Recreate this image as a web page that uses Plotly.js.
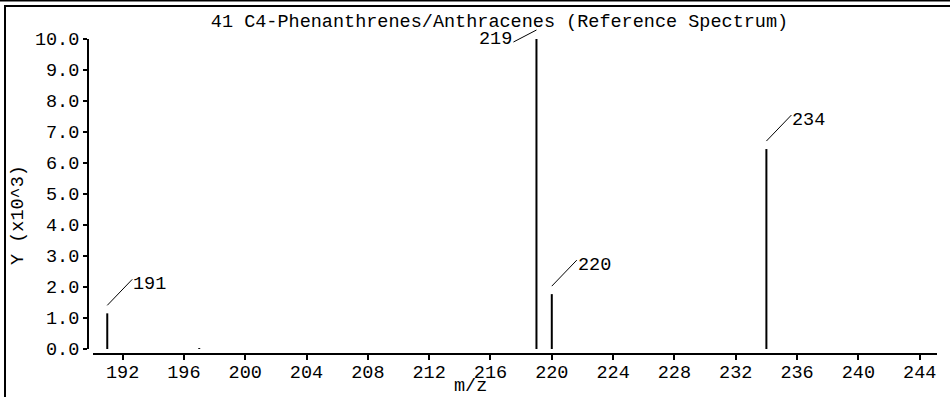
<!DOCTYPE html>
<html>
<head>
<meta charset="utf-8">
<script src="https://cdn.plot.ly/plotly-3.0.1.min.js"></script>
<style>html,body{margin:0;padding:0;background:#fff;}#chart{width:950px;height:397px;}</style>
</head>
<body>
<div id="chart"></div>
<script>
// ---- data ----
const chartTitle = "41 C4-Phenanthrenes/Anthracenes (Reference Spectrum)";
const xTitle = "m/z";
const yTitle = "Y (x10^3)";
const mz = [191, 197, 219, 220, 234];
const intensity = [1.15, 0.03, 10.0, 1.77, 6.45];   // x10^3
const labeledPeaks = [191, 219, 220, 234];
const xTickStart = 192, xTickStep = 4;
const yTickStep = 1;

// ---- geometry (pixels) ----
const W = 950, H = 397;
const L = 88, R = 937, T = 39, B = 354;
const pw = R - L, ph = B - T;
const FONT = "Liberation Mono, DejaVu Sans Mono, monospace";
const FS = 18.5;
const xRange = [190.07, 245.13], yRange = [0, 10];
const xDom = [5 / pw, 1], yDom = [5 / ph, 1];

// stick lines built from the data arrays
const sx = [], sy = [];
mz.forEach((m, i) => { sx.push(m, m, null); sy.push(0, intensity[i], null); });

const trace = {
  type: "scatter", mode: "lines", x: sx, y: sy,
  line: {color: "#000", width: 2}, hoverinfo: "skip", showlegend: false,
  cliponaxis: false
};

// data -> paper fraction (so leader lines are not clipped by the plot area)
const xToPaper = m => xDom[0] + (m - xRange[0]) / (xRange[1] - xRange[0]) * (xDom[1] - xDom[0]);
const yToPaper = v => yDom[0] + (v - yRange[0]) / (yRange[1] - yRange[0]) * (yDom[1] - yDom[0]);

const maxVal = Math.max(...intensity);
const shapes = [];
const annotations = [];
labeledPeaks.forEach(m => {
  const v = intensity[mz.indexOf(m)];
  const isMax = v === maxVal;
  // leader line: starts above the peak top, goes diagonally to the label
  const ln = isMax ? {x0: 0, y0: 9, x1: -23, y1: -3} : {x0: 0, y0: 8, x1: 25, y1: 34};
  shapes.push({
    type: "line", xref: "paper", yref: "paper",
    xsizemode: "pixel", ysizemode: "pixel", xanchor: xToPaper(m), yanchor: yToPaper(v),
    x0: ln.x0, x1: ln.x1, y0: ln.y0, y1: ln.y1,
    line: {color: "#000", width: 1}
  });
  annotations.push({
    xref: "x", yref: "y", x: m, y: v, text: String(m), showarrow: false,
    xanchor: isMax ? "right" : "left", yanchor: "middle",
    xshift: isMax ? ln.x1 + 1 : ln.x1 - 1, yshift: isMax ? 0 : ln.y1 - 5,
    font: {family: FONT, size: FS, color: "#000"}
  });
});

// frame lines of the panel
const px = v => (v - L) / pw;
const py = v => (B - v) / ph;
shapes.push({type: "line", xref: "paper", yref: "paper", x0: px(0), x1: px(W), y0: py(0.5), y1: py(0.5), line: {color: "#000", width: 2}});
shapes.push({type: "line", xref: "paper", yref: "paper", x0: px(4), x1: px(W), y0: py(6), y1: py(6), line: {color: "#000", width: 2}});
shapes.push({type: "line", xref: "paper", yref: "paper", x0: px(5), x1: px(5), y0: py(5), y1: py(H + 2), line: {color: "#000", width: 2}});

annotations.push({
  xref: "paper", yref: "paper", x: px(18), y: py(215), text: yTitle, textangle: -90,
  showarrow: false, xanchor: "center", yanchor: "middle",
  font: {family: FONT, size: FS, color: "#000"}
});
annotations.push({
  xref: "paper", yref: "paper", x: px(470), y: py(386), text: xTitle,
  showarrow: false, xanchor: "center", yanchor: "middle",
  font: {family: FONT, size: FS, color: "#000"}
});

const layout = {
  width: W, height: H,
  margin: {l: L, r: W - R, t: T, b: H - B, pad: 0},
  paper_bgcolor: "#fff", plot_bgcolor: "#fff",
  showlegend: false,
  title: {text: chartTitle, xref: "container", yref: "container", x: 499.5 / W, y: 1 - 21 / H,
          xanchor: "center", yanchor: "middle", font: {family: FONT, size: FS, color: "#000"}},
  xaxis: {
    domain: xDom, range: xRange, anchor: "free", position: 0,
    showline: true, linecolor: "#000", linewidth: 2, mirror: false,
    ticks: "outside", ticklen: 5, tickwidth: 2, tickcolor: "#000",
    tick0: xTickStart, dtick: xTickStep, showgrid: false, zeroline: false,
    ticklabelstandoff: -4,
    tickfont: {family: FONT, size: FS, color: "#000"}
  },
  yaxis: {
    domain: yDom, range: yRange, anchor: "free", position: 0,
    showline: true, linecolor: "#000", linewidth: 2,
    ticks: "outside", ticklen: 4, tickwidth: 2, tickcolor: "#000",
    dtick: yTickStep, tickformat: ".1f", showgrid: false, zeroline: false,
    tickfont: {family: FONT, size: FS, color: "#000"}
  },
  shapes: shapes,
  annotations: annotations
};

Plotly.newPlot("chart", [trace], layout, {staticPlot: true, displayModeBar: false});
</script>
</body>
</html>
